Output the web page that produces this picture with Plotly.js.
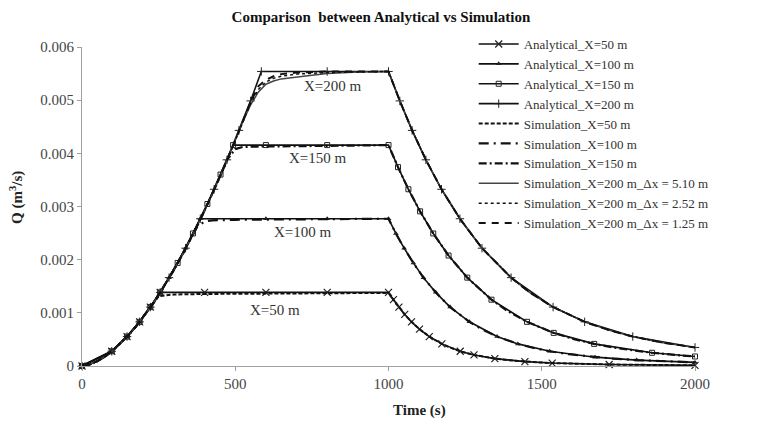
<!DOCTYPE html>
<html>
<head>
<meta charset="utf-8">
<script src="https://cdn.plot.ly/plotly-3.0.1.min.js"></script>
<style>
  html, body { margin: 0; padding: 0; background: #fff; }
  #chart { width: 762px; height: 421px; }
</style>
</head>
<body>
<div id="chart"></div>
<script>
// Outflow discharge Q (m^3/s) against time (s) at four stations along the plane.

// ---- Analytical solution (points where the solution was evaluated) ----
const tAna50  = [0, 97, 147, 188, 223, 255, 400, 600, 800, 1000, 1016, 1034, 1053, 1075, 1101, 1133, 1174, 1234, 1279, 1347, 1445, 1534, 1720, 2000];
const qAna50  = [0, 0.000277, 0.000554, 0.000831, 0.001108, 0.001385, 0.001385, 0.001385, 0.001385, 0.001385, 0.001247, 0.001108, 0.00097, 0.000831, 0.000693, 0.000554, 0.000416, 0.000277, 0.000208, 0.000139, 0.0000831, 0.0000554, 0.0000277, 0.0000125];

const tAna100 = [0, 97, 147, 188, 223, 255, 284, 338, 386, 600, 800, 1000, 1024, 1051, 1081, 1114, 1154, 1201, 1264, 1354, 1422, 1526, 1674, 1810, 2000];
const qAna100 = [0, 0.000277, 0.000554, 0.000831, 0.001108, 0.001385, 0.001662, 0.002216, 0.00277, 0.00277, 0.00277, 0.00277, 0.002493, 0.002216, 0.001939, 0.001662, 0.001385, 0.001108, 0.000831, 0.000554, 0.000416, 0.000277, 0.000166, 0.000111, 0.0000679];

const tAna150 = [0, 97, 147, 188, 223, 255, 312, 362, 409, 452, 493, 600, 800, 1000, 1031, 1065, 1103, 1146, 1196, 1257, 1336, 1452, 1539, 1671, 1860, 2000];
const qAna150 = [0, 0.000277, 0.000554, 0.000831, 0.001108, 0.001385, 0.001939, 0.002493, 0.003047, 0.003601, 0.004155, 0.004155, 0.004155, 0.004155, 0.00374, 0.003324, 0.002909, 0.002493, 0.002078, 0.001662, 0.001247, 0.000831, 0.000623, 0.000416, 0.000249, 0.000179];

const tAna200 = [0, 97, 147, 188, 223, 255, 284, 338, 386, 431, 473, 512, 550, 585, 800, 1000, 1037, 1077, 1122, 1173, 1233, 1305, 1400, 1537, 1640, 1797, 2000];
const qAna200 = [0, 0.000277, 0.000554, 0.000831, 0.001108, 0.001385, 0.001662, 0.002216, 0.00277, 0.003324, 0.003878, 0.004432, 0.004986, 0.00554, 0.00554, 0.00554, 0.004986, 0.004432, 0.003878, 0.003324, 0.00277, 0.002216, 0.001662, 0.001108, 0.000831, 0.000554, 0.000349];

// ---- Numerical simulation ----
const tSim50  = [0, 25, 50, 75, 100, 125, 150, 175, 200, 225, 250, 275, 300, 400, 600, 800, 1000, 1016, 1034, 1053, 1075, 1101, 1133, 1174, 1201, 1234, 1279, 1315, 1347, 1388, 1445, 1484, 1534, 1606, 1720, 2000];
const qSim50  = [0, 0.0000288, 0.0000913, 0.000179, 0.00029, 0.000421, 0.00057, 0.000737, 0.000921, 0.00112, 0.00131, 0.00133, 0.001345, 0.001355, 0.001365, 0.00137, 0.001375, 0.001247, 0.001108, 0.00097, 0.000831, 0.000693, 0.000554, 0.000416, 0.000346, 0.000277, 0.000208, 0.000166, 0.000139, 0.000111, 0.0000831, 0.0000693, 0.0000554, 0.0000416, 0.0000277, 0.0000125];

const tSim100 = [0, 25, 50, 75, 100, 125, 150, 175, 200, 225, 250, 275, 300, 325, 350, 375, 400, 425, 500, 700, 1000, 1024, 1051, 1081, 1114, 1154, 1201, 1264, 1304, 1354, 1422, 1478, 1526, 1588, 1674, 1733, 1810, 1918, 2000];
const qSim100 = [0, 0.0000288, 0.0000913, 0.000179, 0.00029, 0.000421, 0.00057, 0.000737, 0.000921, 0.00112, 0.001336, 0.001566, 0.00181, 0.002068, 0.00234, 0.00261, 0.00272, 0.00274, 0.00275, 0.00276, 0.00277, 0.002493, 0.002216, 0.001939, 0.001662, 0.001385, 0.001108, 0.000831, 0.000693, 0.000554, 0.000416, 0.000332, 0.000277, 0.000222, 0.000166, 0.000139, 0.000111, 0.0000831, 0.0000679];

const tSim150 = [0, 25, 50, 75, 100, 125, 150, 175, 200, 225, 250, 275, 300, 325, 350, 375, 400, 425, 450, 475, 500, 525, 600, 800, 1000, 1031, 1065, 1103, 1146, 1196, 1257, 1336, 1387, 1452, 1539, 1609, 1671, 1750, 1860, 1934, 2000];
const qSim150 = [0, 0.0000288, 0.0000913, 0.000179, 0.00029, 0.000421, 0.00057, 0.000737, 0.000921, 0.00112, 0.001336, 0.001566, 0.00181, 0.002068, 0.00234, 0.002625, 0.002923, 0.003233, 0.003556, 0.003891, 0.00408, 0.00412, 0.00413, 0.00414, 0.004155, 0.00374, 0.003324, 0.002909, 0.002493, 0.002078, 0.001662, 0.001247, 0.001039, 0.000831, 0.000623, 0.000499, 0.000416, 0.000332, 0.000249, 0.000208, 0.000179];

const tSim200 = [0, 25, 50, 75, 100, 125, 150, 175, 200, 225, 250, 275, 300, 325, 350, 375, 400, 425, 450, 475, 500, 525, 550, 575, 600, 625, 650, 700, 750, 800, 900, 1000, 1037, 1077, 1122, 1173, 1233, 1305, 1400, 1460, 1537, 1640, 1724, 1797, 1891, 2000];
const qSim200dx510 = [0, 0.0000288, 0.0000913, 0.000179, 0.00029, 0.000421, 0.00057, 0.000737, 0.000921, 0.00112, 0.001336, 0.001566, 0.00181, 0.002068, 0.00234, 0.002625, 0.002923, 0.003233, 0.003556, 0.003891, 0.00424, 0.004598, 0.00491, 0.00515, 0.0053, 0.00536, 0.0054, 0.00544, 0.00547, 0.0055, 0.00553, 0.00554, 0.004986, 0.004432, 0.003878, 0.003324, 0.00277, 0.002216, 0.001662, 0.001385, 0.001108, 0.000831, 0.000665, 0.000554, 0.000443, 0.000349];
const qSim200dx252 = [0, 0.0000288, 0.0000913, 0.000179, 0.00029, 0.000421, 0.00057, 0.000737, 0.000921, 0.00112, 0.001336, 0.001566, 0.00181, 0.002068, 0.00234, 0.002625, 0.002923, 0.003233, 0.003556, 0.003891, 0.00424, 0.004598, 0.00494, 0.0052, 0.00534, 0.00541, 0.00545, 0.00549, 0.00551, 0.00552, 0.00553, 0.00554, 0.004986, 0.004432, 0.003878, 0.003324, 0.00277, 0.002216, 0.001662, 0.001385, 0.001108, 0.000831, 0.000665, 0.000554, 0.000443, 0.000349];
const qSim200dx125 = [0, 0.0000288, 0.0000913, 0.000179, 0.00029, 0.000421, 0.00057, 0.000737, 0.000921, 0.00112, 0.001336, 0.001566, 0.00181, 0.002068, 0.00234, 0.002625, 0.002923, 0.003233, 0.003556, 0.003891, 0.00424, 0.004598, 0.00496, 0.00526, 0.00538, 0.00545, 0.00549, 0.00552, 0.00553, 0.00554, 0.00554, 0.00554, 0.004986, 0.004432, 0.003878, 0.003324, 0.00277, 0.002216, 0.001662, 0.001385, 0.001108, 0.000831, 0.000665, 0.000554, 0.000443, 0.000349];

// Axis ticks and curve labels
const xTicks = [0, 500, 1000, 1500, 2000];
const yTicks = [0, 0.001, 0.002, 0.003, 0.004, 0.005, 0.006];
const yTickText = ['0', '0.001', '0.002', '0.003', '0.004', '0.005', '0.006'];
const curveLabels = ['X=200 m', 'X=150 m', 'X=100 m', 'X=50 m'];
const labelT = [820, 771, 722, 630];
const labelQ = [0.00526, 0.00391, 0.00252, 0.00105];

const SERIF = '"Liberation Serif", "Times New Roman", serif';
const INK = '#111111';

function ana(name, t, q, marker) {
  return { type: 'scatter', mode: 'lines+markers', name: name, x: t, y: q,
           line: { color: INK, width: 1.6 }, marker: marker, cliponaxis: false };
}
function sim(name, t, q, dash, width, color) {
  return { type: 'scatter', mode: 'lines', name: name, x: t, y: q,
           line: { color: color || INK, width: width, dash: dash } };
}

const traces = [
  ana('Analytical_X=50 m', tAna50, qAna50, { symbol: 'x-thin-open', size: 7, color: '#222', line: { width: 1.2, color: '#222' } }),
  ana('Analytical_X=100 m', tAna100, qAna100, { symbol: 'triangle-up', size: 5, color: '#222' }),
  ana('Analytical_X=150 m', tAna150, qAna150, { symbol: 'square-open', size: 5, color: '#222', line: { width: 1, color: '#222' } }),
  ana('Analytical_X=200 m', tAna200, qAna200, { symbol: 'cross-thin-open', size: 6, color: '#222', line: { width: 1, color: '#222' } }),
  sim('Simulation_X=50 m', tSim50, qSim50, '4px,2px', 2),
  sim('Simulation_X=100 m', tSim100, qSim100, '10px,5px,2px,5px', 2.2),
  sim('Simulation_X=150 m', tSim150, qSim150, '8px,3px,2px,3px', 2.2),
  sim('Simulation_X=200 m_\u0394x = 5.10 m', tSim200, qSim200dx510, 'solid', 1.5, '#444'),
  sim('Simulation_X=200 m_\u0394x = 2.52 m', tSim200, qSim200dx252, 'dot', 1.5),
  sim('Simulation_X=200 m_\u0394x = 1.25 m', tSim200, qSim200dx125, '7px,6px', 2)
];

const annotations = curveLabels.map((txt, k) => ({
  x: labelT[k], y: labelQ[k], xref: 'x', yref: 'y', text: txt, showarrow: false,
  font: { family: SERIF, size: 15, color: '#333' }
}));
annotations.push({
  x: 0.55, y: -0.138, xref: 'paper', yref: 'paper', text: '<b>Time (s)</b>', showarrow: false,
  xanchor: 'center', yanchor: 'middle', font: { family: SERIF, size: 15, color: '#222' }
});
annotations.push({
  x: -0.106, y: 0.527, xref: 'paper', yref: 'paper', text: '<b>Q (m<sup>3</sup>/s)</b>', showarrow: false,
  textangle: -90, xanchor: 'center', yanchor: 'middle', font: { family: SERIF, size: 15, color: '#222' }
});

const layout = {
  width: 762, height: 421,
  margin: { l: 82, r: 67, t: 47, b: 55, pad: 0 },
  paper_bgcolor: '#ffffff', plot_bgcolor: '#ffffff',
  title: { text: '<b>Comparison  between Analytical vs Simulation</b>', x: 0.5, xref: 'container',
           y: 0.96, yref: 'container', yanchor: 'middle',
           font: { family: SERIF, size: 15, color: '#111' } },
  xaxis: { range: [0, 2000], tickvals: xTicks, ticktext: xTicks.map(String), showgrid: false, zeroline: false,
           showline: true, linecolor: '#a0a0a0', linewidth: 1, ticks: 'outside', ticklen: 4, tickcolor: '#a0a0a0',
           tickfont: { family: SERIF, size: 15, color: '#444' } },
  yaxis: { range: [0, 0.006], tickvals: yTicks, ticktext: yTickText, showgrid: false, zeroline: false,
           showline: true, linecolor: '#a0a0a0', linewidth: 1, ticks: 'outside', ticklen: 4, tickcolor: '#a0a0a0',
           tickfont: { family: SERIF, size: 15, color: '#444' } },
  showlegend: true,
  legend: { x: 0.639, y: 1.0564, xanchor: 'left', yanchor: 'top', bgcolor: 'rgba(0,0,0,0)',
            borderwidth: 0, itemwidth: 40, tracegroupgap: 0,
            font: { family: SERIF, size: 13, color: '#333' } },
  annotations: annotations
};

Plotly.newPlot('chart', traces, layout, { staticPlot: true, displayModeBar: false });
</script>
</body>
</html>
